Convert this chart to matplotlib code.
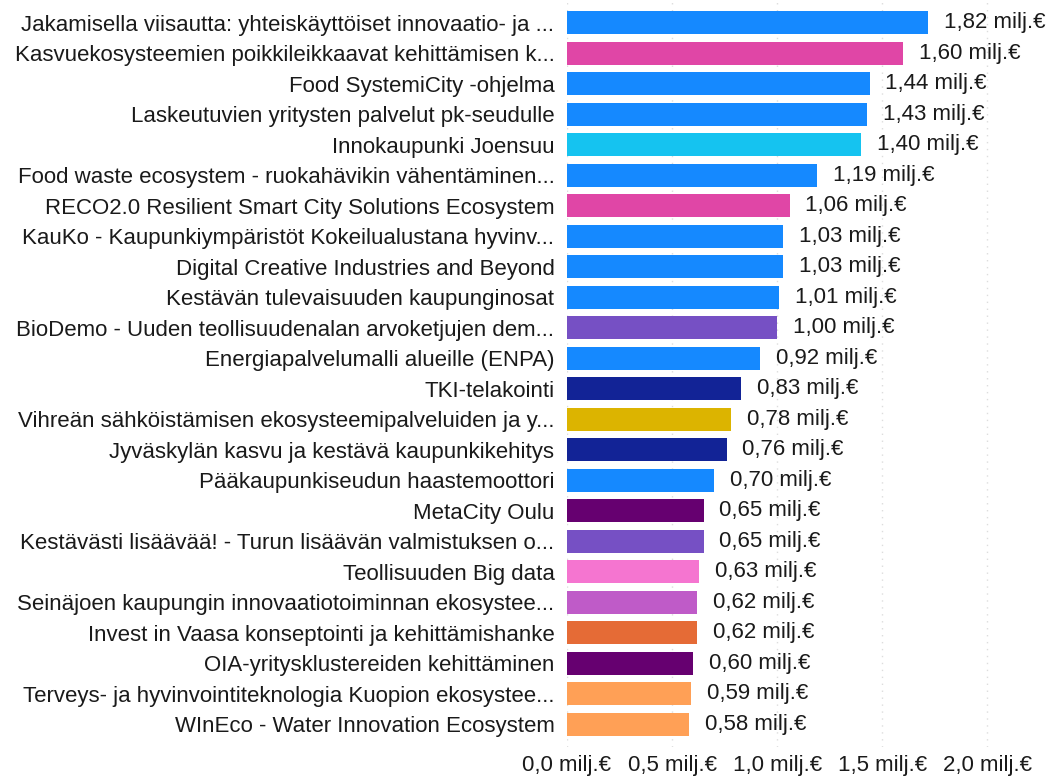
import numpy as np
import matplotlib.pyplot as plt

plt.rcParams['font.family'] = ['Liberation Sans', 'DejaVu Sans']

projects = [
    "Jakamisella viisautta: yhteiskäyttöiset innovaatio- ja ...",
    "Kasvuekosysteemien poikkileikkaavat kehittämisen k...",
    "Food SystemiCity -ohjelma",
    "Laskeutuvien yritysten palvelut pk-seudulle",
    "Innokaupunki Joensuu",
    "Food waste ecosystem - ruokahävikin vähentäminen...",
    "RECO2.0 Resilient Smart City Solutions Ecosystem",
    "KauKo - Kaupunkiympäristöt Kokeilualustana hyvinv...",
    "Digital Creative Industries and Beyond",
    "Kestävän tulevaisuuden kaupunginosat",
    "BioDemo - Uuden teollisuudenalan arvoketjujen dem...",
    "Energiapalvelumalli alueille (ENPA)",
    "TKI-telakointi",
    "Vihreän sähköistämisen ekosysteemipalveluiden ja y...",
    "Jyväskylän kasvu ja kestävä kaupunkikehitys",
    "Pääkaupunkiseudun haastemoottori",
    "MetaCity Oulu",
    "Kestävästi lisäävää! - Turun lisäävän valmistuksen o...",
    "Teollisuuden Big data",
    "Seinäjoen kaupungin innovaatiotoiminnan ekosystee...",
    "Invest in Vaasa konseptointi ja kehittämishanke",
    "OIA-yritysklustereiden kehittäminen",
    "Terveys- ja hyvinvointiteknologia Kuopion ekosystee...",
    "WInEco - Water Innovation Ecosystem",
]
# funding, million euros
funding = [1.82, 1.60, 1.44, 1.43, 1.40, 1.19, 1.06, 1.03, 1.03, 1.01, 1.00, 0.92,
           0.83, 0.78, 0.76, 0.70, 0.65, 0.65, 0.63, 0.62, 0.62, 0.60, 0.59, 0.58]
colors = ["#1589ff", "#e046a6", "#1589ff", "#1589ff", "#15c3f0", "#1589ff",
          "#e046a6", "#1589ff", "#1589ff", "#1589ff", "#7650c4", "#1589ff",
          "#122396", "#dcb400", "#122396", "#1589ff", "#660070", "#7650c4",
          "#f575d0", "#bf5bc8", "#e56b36", "#660070", "#ffa056", "#ffa056"]
x_ticks = [0.0, 0.5, 1.0, 1.5, 2.0]

def fmt(v):
    return f"{v:.2f}".replace(".", ",") + " milj.€"

fig = plt.figure(figsize=(10.46, 7.77), dpi=100)
ax = fig.add_axes([0.542, 0.0386, 0.442, 0.9614])

y = np.arange(len(projects))
# longest bar is drawn shorter than its label in the original chart
lengths = np.minimum(funding, 1.72)
ax.barh(y, lengths, height=0.75, color=colors, zorder=2)

fs = 16
for yi, length, v in zip(y, lengths, funding):
    ax.text(length + 0.075, yi, fmt(v), va="center", ha="left",
            fontsize=fs, color="#1a1a1a")

ax.set_xlim(0, 2.2)
ax.set_ylim(23.75, -0.74)
ax.set_yticks(y)
ax.set_yticklabels(projects, fontsize=fs, color="#1a1a1a")
ax.set_xticks(x_ticks)
ax.set_xticklabels([f"{t:.1f}".replace(".", ",") + " milj.€" for t in x_ticks],
                   fontsize=fs, color="#1a1a1a")
ax.tick_params(length=0, pad=9)
ax.tick_params(axis="x", pad=6)
ax.grid(axis="x", color="#dddddd", linestyle=(0, (1, 4)), linewidth=1, zorder=0)
for s in ax.spines.values():
    s.set_visible(False)

fig.savefig("out.png", dpi=100)
